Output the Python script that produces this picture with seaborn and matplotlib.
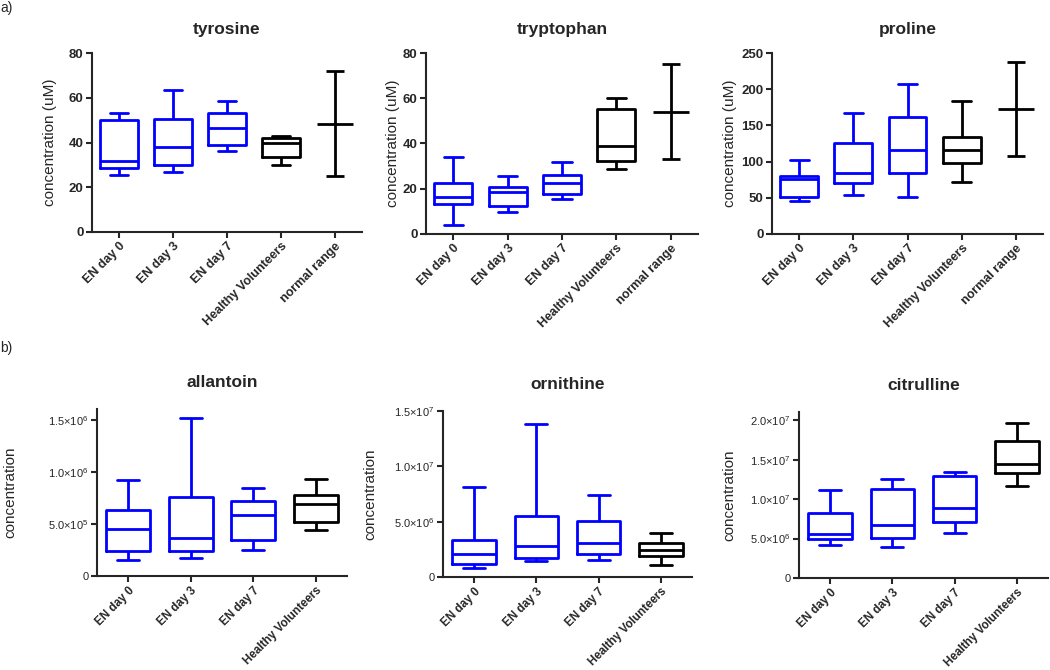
import seaborn as sns
import matplotlib.pyplot as plt
import pandas as pd
import numpy as np

# categories
groups_a = ['EN day 0', 'EN day 3', 'EN day 7', 'Healthy Volunteers', 'normal range']
groups_b = ['EN day 0', 'EN day 3', 'EN day 7', 'Healthy Volunteers']
box_groups = ['EN day 0', 'EN day 3', 'EN day 7', 'Healthy Volunteers']

# box stats per group: [min, q1, median, q3, max]
tyrosine = [[25.5, 28.8, 31.7, 50.0, 53.0],
            [26.7, 30.0, 38.1, 50.7, 63.6],
            [36.2, 38.9, 46.7, 53.3, 58.5],
            [30.0, 33.4, 39.6, 42.1, 42.9]]
tryptophan = [[4.1, 13.3, 16.5, 22.7, 33.9],
              [9.7, 12.4, 18.7, 20.7, 25.8],
              [15.6, 17.6, 22.7, 26.1, 31.7],
              [28.9, 32.2, 39.1, 55.2, 60.2]]
proline = [[45.1, 51.1, 76.0, 79.7, 101.7],
           [54.3, 70.4, 84.3, 125.2, 166.7],
           [51.6, 84.3, 115.6, 161.6, 207.6],
           [71.8, 98.1, 115.6, 133.5, 184.2]]
allantoin = [[0.151e6, 0.241e6, 0.453e6, 0.639e6, 0.928e6],
             [0.170e6, 0.241e6, 0.366e6, 0.761e6, 1.519e6],
             [0.247e6, 0.344e6, 0.591e6, 0.726e6, 0.848e6],
             [0.447e6, 0.524e6, 0.697e6, 0.777e6, 0.935e6]]
ornithine = [[0.78e6, 1.21e6, 2.05e6, 3.32e6, 8.15e6],
             [1.45e6, 1.72e6, 2.78e6, 5.52e6, 13.79e6],
             [1.54e6, 2.11e6, 3.11e6, 5.04e6, 7.40e6],
             [1.06e6, 1.87e6, 2.41e6, 3.08e6, 4.01e6]]
citrulline = [[4.19e6, 4.90e6, 5.54e6, 8.29e6, 11.2e6],
              [3.93e6, 5.07e6, 6.72e6, 11.25e6, 12.5e6],
              [5.75e6, 7.10e6, 8.92e6, 12.9e6, 13.45e6],
              [11.67e6, 13.32e6, 14.50e6, 17.34e6, 19.66e6]]

# normal range: [low, mid, high]
tyrosine_range = [25.2, 48.2, 72.0]
tryptophan_range = [33.1, 53.9, 75.0]
proline_range = [108.2, 173.1, 237.6]

colors = {'EN day 0': 'blue', 'EN day 3': 'blue', 'EN day 7': 'blue',
          'Healthy Volunteers': 'black'}

sns.set_style("ticks")
plt.rcParams['font.family'] = ['Liberation Sans', 'DejaVu Sans']
plt.rcParams['mathtext.fontset'] = 'custom'
plt.rcParams['mathtext.rm'] = 'Liberation Sans'

fig = plt.figure(figsize=(10.5, 6.7), dpi=100)


def draw_panel(rect, stats, title, order, ylim, yticks, yticklabels, ylabel,
               label_x, rng=None, tick_bold=True, title_pad=14, xfs=9):
    ax = fig.add_axes(rect)
    df = pd.DataFrame({'group': np.repeat(box_groups, 5),
                       'value': np.concatenate(stats)})
    sns.boxplot(data=df, x='group', y='value', hue='group', order=order,
                palette=colors, fill=False, width=0.7, whis=(0, 100),
                linewidth=2, legend=False, showfliers=False, ax=ax)
    if rng is not None:
        lo, mid, hi = rng
        ax.errorbar(4, mid, yerr=[[mid - lo], [hi - mid]], color='black',
                    elinewidth=2, capsize=6.5, capthick=2,
                    marker='_', markersize=26, mew=2)
    ax.set_xlim(-0.5, len(order) - 0.5)
    ax.set_ylim(*ylim)
    ax.set_yticks(yticks)
    ax.set_yticklabels(yticklabels, fontsize=9.5 if tick_bold else 8,
                       fontweight='bold' if tick_bold else 'normal')
    ax.set_xticks(range(len(order)))
    ax.set_xticklabels(order, rotation=45, ha='right', rotation_mode='anchor',
                       fontsize=xfs, fontweight='bold')
    ax.set_xlabel('')
    ax.set_ylabel(ylabel, fontsize=11)
    ax.yaxis.set_label_coords(label_x, 0.5)
    ax.set_title(title, fontsize=12.5, fontweight='bold', pad=title_pad)
    sns.despine(ax=ax)
    for s in ('left', 'bottom'):
        ax.spines[s].set_linewidth(1.5)
    ax.tick_params(width=1.5, length=4, pad=2)
    return ax


draw_panel([92 / 1050, 1 - 232 / 670, 270 / 1050, 179 / 670], tyrosine, 'tyrosine',
           groups_a, (0, 80), [0, 20, 40, 60, 80], ['0', '20', '40', '60', '80'],
           'concentration (uM)', -0.13, rng=tyrosine_range)
draw_panel([426 / 1050, 1 - 234 / 670, 272 / 1050, 181 / 670], tryptophan, 'tryptophan',
           groups_a, (0, 80), [0, 20, 40, 60, 80], ['0', '20', '40', '60', '80'],
           'concentration (uM)', -0.096, rng=tryptophan_range)
draw_panel([772 / 1050, 1 - 234 / 670, 271 / 1050, 181 / 670], proline, 'proline',
           groups_a, (0, 250), [0, 50, 100, 150, 200, 250],
           ['0', '50', '100', '150', '200', '250'],
           'concentration (uM)', -0.129, rng=proline_range)

draw_panel([97 / 1050, 1 - 576 / 670, 250 / 1050, 167 / 670], allantoin, 'allantoin',
           groups_b, (0, 1.606e6), [0, 5e5, 1e6, 1.5e6],
           ['0', '5.0×10$^{5}$', '1.0×10$^{6}$', '1.5×10$^{6}$'],
           'concentration', -0.32, tick_bold=False, title_pad=16, xfs=8.4)
draw_panel([443 / 1050, 1 - 577 / 670, 249 / 1050, 166 / 670], ornithine, 'ornithine',
           groups_b, (0, 1.5e7), [0, 5e6, 1e7, 1.5e7],
           ['0', '5.0×10$^{6}$', '1.0×10$^{7}$', '1.5×10$^{7}$'],
           'concentration', -0.265, tick_bold=False, title_pad=16, xfs=8.4)
draw_panel([799 / 1050, 1 - 578 / 670, 249 / 1050, 166 / 670], citrulline, 'citrulline',
           groups_b, (0, 2.106e7), [0, 5e6, 1e7, 1.5e7, 2e7],
           ['0', '5.0×10$^{6}$', '1.0×10$^{7}$', '1.5×10$^{7}$', '2.0×10$^{7}$'],
           'concentration', -0.253, tick_bold=False, title_pad=16, xfs=8.4)

fig.text(0.0, 1 - 8 / 670, 'a)', fontsize=10, va='center', ha='left')
fig.text(0.0, 1 - 348 / 670, 'b)', fontsize=10, va='center', ha='left')

fig.savefig('out.png', dpi=100)
